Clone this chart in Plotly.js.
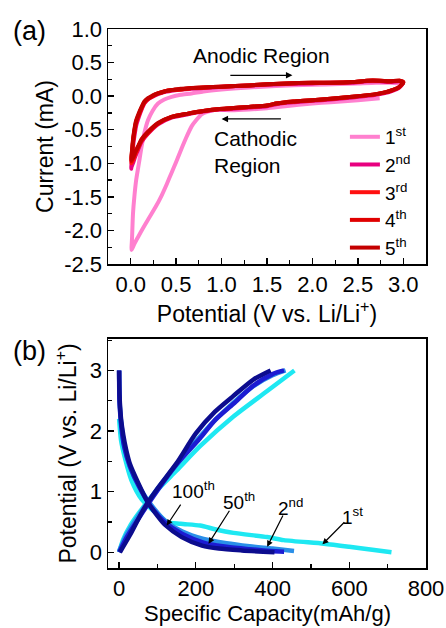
<!DOCTYPE html>
<html>
<head>
<meta charset="utf-8">
<script src="https://cdn.plot.ly/plotly-3.0.1.min.js"></script>
<style>html,body{margin:0;padding:0;background:#fff;}#chart{width:446px;height:628px;}</style>
</head>
<body>
<div id="chart"></div>
<script>
// ---------- Panel (a): cyclic voltammetry ----------
const cycleNames = ['1<sup>st</sup>', '2<sup>nd</sup>', '3<sup>rd</sup>', '4<sup>th</sup>', '5<sup>th</sup>'];
const cycleColors = ['#ff80cf', '#e8007f', '#ff1010', '#e00000', '#c40000'];

const cv1X = [2.74, 2.5, 2.2, 2.0, 1.7, 1.5, 1.3, 1.1, 0.95, 0.85, 0.78, 0.72, 0.67, 0.61, 0.56, 0.50, 0.45, 0.40, 0.34, 0.27, 0.19, 0.13, 0.08, 0.04, 0.01, 0.015, 0.025, 0.04, 0.06, 0.09, 0.12, 0.15, 0.19, 0.24, 0.30, 0.37, 0.45, 0.55, 0.67, 0.8, 1.0, 1.3, 1.6, 2.0, 2.3, 2.5, 2.7, 2.85, 2.95, 3.0];
const cv1Y = [-0.03, -0.06, -0.09, -0.11, -0.15, -0.18, -0.2, -0.21, -0.2, -0.23, -0.27, -0.36, -0.45, -0.62, -0.78, -0.98, -1.14, -1.3, -1.48, -1.66, -1.84, -1.98, -2.1, -2.2, -2.29, -2.1, -1.75, -1.5, -1.25, -1.0, -0.75, -0.55, -0.36, -0.22, -0.11, -0.05, -0.01, 0.02, 0.04, 0.07, 0.1, 0.13, 0.15, 0.17, 0.18, 0.19, 0.2, 0.2, 0.19, 0.2];

const cvX = [3.0, 2.98, 2.95, 2.88, 2.81, 2.7, 2.44, 2.2, 2.0, 1.8, 1.71, 1.6, 1.5, 1.3, 1.1, 0.98, 0.8, 0.63, 0.45, 0.3, 0.19, 0.12, 0.08, 0.05, 0.03, 0.01, 0.005, 0.015, 0.025, 0.04, 0.06, 0.09, 0.12, 0.15, 0.19, 0.24, 0.3, 0.37, 0.45, 0.55, 0.67, 0.8, 1.0, 1.3, 1.71, 2.0, 2.2, 2.44, 2.6, 2.74, 2.85, 2.96, 3.0];
const cv2Y = [0.2, 0.16, 0.12, 0.08, 0.05, 0.02, -0.02, -0.05, -0.07, -0.09, -0.1, -0.12, -0.15, -0.17, -0.19, -0.2, -0.23, -0.27, -0.32, -0.42, -0.56, -0.68, -0.8, -0.9, -0.98, -1.05, -1.08, -0.92, -0.76, -0.6, -0.44, -0.31, -0.2, -0.11, -0.05, -0.01, 0.03, 0.06, 0.08, 0.1, 0.11, 0.12, 0.14, 0.16, 0.18, 0.19, 0.2, 0.2, 0.22, 0.22, 0.21, 0.22, 0.2];
const cv3Y = [0.21, 0.17, 0.13, 0.09, 0.06, 0.03, -0.01, -0.04, -0.06, -0.08, -0.09, -0.11, -0.14, -0.16, -0.18, -0.19, -0.22, -0.26, -0.31, -0.41, -0.55, -0.66, -0.78, -0.87, -0.94, -0.99, -1.0, -0.85, -0.69, -0.54, -0.39, -0.28, -0.18, -0.1, -0.04, 0.0, 0.04, 0.07, 0.09, 0.1, 0.12, 0.13, 0.14, 0.16, 0.19, 0.2, 0.2, 0.21, 0.23, 0.23, 0.22, 0.23, 0.21];
const cv4Y = [0.21, 0.17, 0.13, 0.09, 0.06, 0.03, -0.01, -0.04, -0.06, -0.08, -0.09, -0.11, -0.14, -0.16, -0.18, -0.19, -0.22, -0.26, -0.31, -0.41, -0.54, -0.65, -0.76, -0.84, -0.91, -0.96, -0.97, -0.82, -0.67, -0.52, -0.38, -0.27, -0.17, -0.09, -0.04, 0.0, 0.04, 0.07, 0.09, 0.1, 0.12, 0.13, 0.14, 0.16, 0.19, 0.2, 0.2, 0.21, 0.23, 0.23, 0.22, 0.23, 0.21];
const cv5Y = [0.2, 0.17, 0.13, 0.09, 0.06, 0.03, -0.01, -0.04, -0.06, -0.08, -0.09, -0.11, -0.14, -0.16, -0.18, -0.19, -0.22, -0.26, -0.31, -0.4, -0.53, -0.64, -0.75, -0.83, -0.9, -0.94, -0.95, -0.8, -0.65, -0.5, -0.36, -0.25, -0.16, -0.08, -0.03, 0.01, 0.04, 0.07, 0.09, 0.11, 0.12, 0.13, 0.14, 0.16, 0.19, 0.2, 0.2, 0.21, 0.23, 0.23, 0.22, 0.23, 0.2];

// ---------- Panel (b): charge / discharge ----------
const gcdColors = ['#1ee8f2', '#2a8fe8', '#1c1cd2', '#0c0c8e']; // 1st, 2nd, 50th, 100th

const dis1X = [0, 5, 15, 32, 59, 85, 110, 124, 160, 211, 250, 298, 386, 429, 534, 600, 660, 710];
const dis1Y = [2.2, 1.85, 1.56, 1.19, 0.87, 0.71, 0.58, 0.5, 0.47, 0.44, 0.38, 0.32, 0.25, 0.2, 0.14, 0.09, 0.04, 0.0];
const chg1X = [0, 10, 30, 60, 100, 150, 211, 298, 386, 457];
const chg1Y = [0, 0.2, 0.45, 0.72, 1.03, 1.35, 1.75, 2.24, 2.66, 3.0];

const dis2X = [0, 2, 8, 15, 30, 55, 85, 120, 165, 220, 280, 340, 400, 456];
const dis2Y = [3.0, 2.4, 2.0, 1.7, 1.38, 1.05, 0.77, 0.52, 0.34, 0.22, 0.15, 0.1, 0.06, 0.02];
const chg2X = [0, 20, 50, 100, 150, 200, 250, 300, 350, 400, 434];
const chg2Y = [0.02, 0.3, 0.6, 1.05, 1.45, 1.83, 2.18, 2.48, 2.74, 2.92, 3.0];

const dis50X = [0, 1, 6, 13, 28, 52, 80, 120, 165, 220, 280, 340, 395, 430];
const dis50Y = [3.0, 2.5, 2.05, 1.75, 1.42, 1.08, 0.78, 0.49, 0.3, 0.16, 0.09, 0.05, 0.02, 0.01];
const chg50X = [0, 20, 50, 100, 150, 211, 250, 298, 350, 400, 430];
const chg50Y = [0, 0.25, 0.55, 1.02, 1.45, 1.88, 2.18, 2.45, 2.75, 2.94, 3.0];

const dis100X = [0, 1, 5, 11, 18, 28, 50, 76, 100, 120, 163, 216, 260, 320, 405];
const dis100Y = [3.0, 2.6, 2.2, 1.93, 1.7, 1.46, 1.14, 0.81, 0.6, 0.45, 0.25, 0.11, 0.06, 0.03, 0.0];
const chg100X = [2, 28, 63, 100, 150, 200, 250, 298, 350, 395];
const chg100Y = [0, 0.28, 0.7, 1.05, 1.47, 1.96, 2.32, 2.58, 2.85, 3.0];

const FONT = 'Liberation Sans, Arial, sans-serif';

const traces = [];
const cvData = [[cv1X, cv1Y], [cvX, cv2Y], [cvX, cv3Y], [cvX, cv4Y], [cvX, cv5Y]];
cvData.forEach((d, i) => {
  traces.push({x: d[0], y: d[1], type: 'scatter', mode: 'lines', name: cycleNames[i],
    line: {color: cycleColors[i], width: 4, shape: 'spline', smoothing: 0.6}, xaxis: 'x', yaxis: 'y'});
});

const gcdData = [[dis1X, dis1Y, chg1X, chg1Y], [dis2X, dis2Y, chg2X, chg2Y], [dis50X, dis50Y, chg50X, chg50Y], [dis100X, dis100Y, chg100X, chg100Y]];
gcdData.forEach((d, i) => {
  traces.push({x: d[0], y: d[1], type: 'scatter', mode: 'lines', showlegend: false,
    line: {color: gcdColors[i], width: 4.5, shape: 'spline', smoothing: 0.7}, xaxis: 'x2', yaxis: 'y2'});
  traces.push({x: d[2], y: d[3], type: 'scatter', mode: 'lines', showlegend: false,
    line: {color: gcdColors[i], width: 4.5, shape: 'spline', smoothing: 0.7}, xaxis: 'x2', yaxis: 'y2'});
});

const axBase = {
  showline: true, linecolor: '#000', linewidth: 1.5, mirror: true,
  ticks: 'inside', ticklen: 6, tickwidth: 1.3, tickcolor: '#000',
  showgrid: false, zeroline: false,
  tickfont: {family: FONT, size: 22, color: '#000'}
};

const xTicksA = [0, 0.5, 1, 1.5, 2, 2.5, 3];
const xTextA = ['0.0', '0.5', '1.0', '1.5', '2.0', '2.5', '3.0'];
const yTicksA = [1, 0.5, 0, -0.5, -1, -1.5, -2, -2.5];
const yTextA = ['1.0', '0.5', '0.0', '-0.5', '-1.0', '-1.5', '-2.0', '-2.5'];
const xTicksB = [0, 200, 400, 600, 800];
const yTicksB = [0, 1, 2, 3];

const layout = {
  width: 446, height: 628,
  paper_bgcolor: '#fff', plot_bgcolor: '#fff',
  margin: {l: 108, r: 20, t: 29, b: 60},
  font: {family: FONT, color: '#000'},
  showlegend: true,
  legend: {x: 0.745, y: 0.835, xanchor: 'left', yanchor: 'top', bgcolor: 'rgba(0,0,0,0)',
    font: {family: FONT, size: 19, color: '#000'}, tracegroupgap: 0},
  xaxis: Object.assign({}, axBase, {domain: [0, 1], range: [-0.25, 3.25], anchor: 'y',
    tickmode: 'array', tickvals: xTicksA, ticktext: xTextA,
    minor: {ticks: 'inside', ticklen: 4, tickwidth: 1.2, tickcolor: '#000', dtick: 0.25, tick0: 0, showgrid: false},
    title: {text: 'Potential (V vs. Li/Li<sup>+</sup>)', font: {family: FONT, size: 23, color: '#000'}, standoff: 4}}),
  yaxis: Object.assign({}, axBase, {domain: [0.564, 1], range: [-2.5, 1.0], anchor: 'x',
    tickmode: 'array', tickvals: yTicksA, ticktext: yTextA,
    minor: {ticks: 'inside', ticklen: 4, tickwidth: 1.2, tickcolor: '#000', dtick: 0.25, tick0: 0, showgrid: false},
    title: {text: 'Current (mA)', font: {family: FONT, size: 23, color: '#000'}, standoff: 4}}),
  xaxis2: Object.assign({}, axBase, {domain: [0, 1], range: [-29, 800], anchor: 'y2',
    tickmode: 'array', tickvals: xTicksB,
    minor: {ticks: 'inside', ticklen: 4, tickwidth: 1.2, tickcolor: '#000', dtick: 100, tick0: 0, showgrid: false}}),
  yaxis2: Object.assign({}, axBase, {domain: [0, 0.425], range: [-0.26, 3.52], anchor: 'x2',
    tickmode: 'array', tickvals: yTicksB,
    minor: {ticks: 'inside', ticklen: 4, tickwidth: 1.2, tickcolor: '#000', dtick: 0.5, tick0: 0, showgrid: false},
    title: {text: 'Potential (V vs. Li/Li<sup>+</sup>)', font: {family: FONT, size: 23, color: '#000'}, standoff: 7}}),
  annotations: [
    {xref: 'paper', yref: 'paper', x: 0.5, y: -0.111, xanchor: 'center', yanchor: 'bottom', text: 'Specific Capacity(mAh/g)', showarrow: false, font: {family: FONT, size: 22, color: '#000'}},
    {xref: 'paper', yref: 'paper', x: -0.305, y: 0.996, xanchor: 'left', yanchor: 'middle', text: '(a)', showarrow: false, font: {family: FONT, size: 27, color: '#000'}},
    {xref: 'paper', yref: 'paper', x: -0.305, y: 0.403, xanchor: 'left', yanchor: 'middle', text: '(b)', showarrow: false, font: {family: FONT, size: 27, color: '#000'}},
    {xref: 'x', yref: 'y', x: 1.44, y: 0.61, text: 'Anodic Region', showarrow: false, font: {family: FONT, size: 21, color: '#000'}},
    {xref: 'x', yref: 'y', axref: 'x', ayref: 'y', x: 1.78, y: 0.31, ax: 1.08, ay: 0.31, text: '', showarrow: true, arrowhead: 2, arrowsize: 1, arrowwidth: 1.3, arrowcolor: '#000'},
    {xref: 'x', yref: 'y', x: 0.9, y: -0.83, xanchor: 'left', align: 'left', text: 'Cathodic<br>Region', showarrow: false, font: {family: FONT, size: 21, color: '#000'}},
    {xref: 'x', yref: 'y', axref: 'x', ayref: 'y', x: 1.0, y: -0.34, ax: 1.67, ay: -0.34, text: '', showarrow: true, arrowhead: 2, arrowsize: 1, arrowwidth: 1.3, arrowcolor: '#000'},
    {xref: 'x2', yref: 'y2', x: 193, y: 1.03, text: '100<sup>th</sup>', showarrow: false, font: {family: FONT, size: 19, color: '#000'}},
    {xref: 'x2', yref: 'y2', axref: 'x2', ayref: 'y2', x: 124, y: 0.44, ax: 163, ay: 0.81, text: '', showarrow: true, arrowhead: 2, arrowsize: 1, arrowwidth: 1.2, arrowcolor: '#000'},
    {xref: 'x2', yref: 'y2', x: 312, y: 0.84, text: '50<sup>th</sup>', showarrow: false, font: {family: FONT, size: 19, color: '#000'}},
    {xref: 'x2', yref: 'y2', axref: 'x2', ayref: 'y2', x: 233, y: 0.14, ax: 290, ay: 0.71, text: '', showarrow: true, arrowhead: 2, arrowsize: 1, arrowwidth: 1.2, arrowcolor: '#000'},
    {xref: 'x2', yref: 'y2', x: 447, y: 0.75, text: '2<sup>nd</sup>', showarrow: false, font: {family: FONT, size: 19, color: '#000'}},
    {xref: 'x2', yref: 'y2', axref: 'x2', ayref: 'y2', x: 386, y: 0.09, ax: 429, ay: 0.63, text: '', showarrow: true, arrowhead: 2, arrowsize: 1, arrowwidth: 1.2, arrowcolor: '#000'},
    {xref: 'x2', yref: 'y2', x: 608, y: 0.6, text: '1<sup>st</sup>', showarrow: false, font: {family: FONT, size: 19, color: '#000'}},
    {xref: 'x2', yref: 'y2', axref: 'x2', ayref: 'y2', x: 530, y: 0.13, ax: 591, ay: 0.52, text: '', showarrow: true, arrowhead: 2, arrowsize: 1, arrowwidth: 1.2, arrowcolor: '#000'}
  ]
};

Plotly.newPlot('chart', traces, layout, {staticPlot: true, displayModeBar: false});
</script>
</body>
</html>
